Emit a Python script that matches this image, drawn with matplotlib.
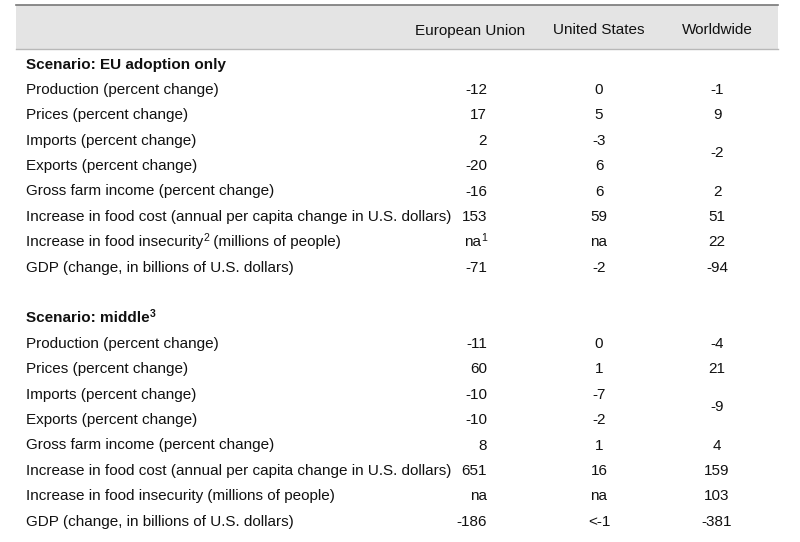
import matplotlib
matplotlib.use("Agg")
import matplotlib.pyplot as plt
from matplotlib.patches import Rectangle

plt.rcParams['font.family'] = ['Liberation Sans', 'DejaVu Sans']

columns = ["European Union", "United States", "Worldwide"]

# each label: list of (text, is_superscript)
row_labels = [
    [("Production (percent change)", False)],
    [("Prices (percent change)", False)],
    [("Imports (percent change)", False)],
    [("Exports (percent change)", False)],
    [("Gross farm income (percent change)", False)],
    [("Increase in food cost (annual per capita change in U.S. dollars)", False)],
    [("Increase in food insecurity", False), ("{sup}", True), (" (millions of people)", False)],
    [("GDP (change, in billions of U.S. dollars)", False)],
]

scenario1_title = [("Scenario: EU adoption only", False)]
scenario1_label_sup = "2"
scenario1_eu = [[("-12", False)], [("17", False)], [("2", False)], [("-20", False)],
                [("-16", False)], [("153", False)], [("na", False), ("1", True)], [("-71", False)]]
scenario1_us = ["0", "5", "-3", "6", "6", "59", "na", "-2"]
scenario1_world = ["-1", "9", "-2", None, "2", "51", "22", "-94"]  # imports/exports merged

scenario2_title = [("Scenario: middle", False), ("3", True)]
scenario2_label_sup = ""
scenario2_eu = [[("-11", False)], [("60", False)], [("-10", False)], [("-10", False)],
                [("8", False)], [("651", False)], [("na", False)], [("-186", False)]]
scenario2_us = ["0", "1", "-7", "-2", "1", "16", "na", "<-1"]
scenario2_world = ["-4", "21", "-9", None, "4", "159", "103", "-381"]

W, H = 800, 542
fig = plt.figure(figsize=(W / 100, H / 100), dpi=100)
ax = fig.add_axes([0, 0, 1, 1])
ax.set_xlim(0, W)
ax.set_ylim(H, 0)
ax.axis('off')
renderer = fig.canvas.get_renderer()

FS = 10.95
SUP_FS = 7.6
TC = '#111111'
x_left, x_right = 16, 778
x_label = 26
x_eu = 487
x_us = 599
x_world = 717


def seg_width(s, sup, weight):
    t = ax.text(0, 0, s, fontsize=SUP_FS if sup else FS, fontweight=weight)
    w = t.get_window_extent(renderer).width
    t.remove()
    return w


def draw_segments(x, y, segs, ha='left', weight='normal'):
    widths = [seg_width(s, sup, weight) for s, sup in segs]
    total = sum(widths)
    if ha == 'right':
        x = x - total
    elif ha == 'center':
        x = x - total / 2
    for (s, sup), w in zip(segs, widths):
        if s:
            ax.text(x, y - (5.5 if sup else 0), s, ha='left', va='baseline',
                    fontsize=SUP_FS if sup else FS, fontweight=weight, color=TC)
        x += w


# header band
ax.add_patch(Rectangle((x_left, 5), x_right - x_left, 44, facecolor='#e4e4e4', edgecolor='none'))
ax.plot([x_left, x_right], [5, 5], color='#777777', lw=1.2)
ax.plot([x_left, x_right], [49, 49], color='#b8b8b8', lw=1.0)

ax.text(470, 34.5, columns[0], ha='center', va='baseline', fontsize=FS, color=TC)
ax.text(x_us, 34.5, columns[1], ha='center', va='baseline', fontsize=FS, color=TC)
ax.text(x_world, 34.5, columns[2], ha='center', va='baseline', fontsize=FS, color=TC)

row_h = 25.4


def draw_block(y0, title, eu, us, world, sup):
    draw_segments(x_label, y0, title, weight='bold')
    for i, lab in enumerate(row_labels):
        y = y0 + (i + 1) * row_h
        segs = [(s.format(sup=sup), is_sup) for s, is_sup in lab]
        draw_segments(x_label, y, segs)
        draw_segments(x_eu, y, eu[i], ha='right')
        ax.text(x_us, y, us[i], ha='center', va='baseline', fontsize=FS, color=TC)
        if i == 2:
            ax.text(x_world, y + row_h / 2, world[i], ha='center', va='baseline', fontsize=FS, color=TC)
        elif world[i] is not None:
            ax.text(x_world, y, world[i], ha='center', va='baseline', fontsize=FS, color=TC)


draw_block(68.5, scenario1_title, scenario1_eu, scenario1_us, scenario1_world, scenario1_label_sup)
draw_block(68.5 + 10 * row_h, scenario2_title, scenario2_eu, scenario2_us, scenario2_world, scenario2_label_sup)

fig.savefig("out.png", dpi=100, facecolor='white')
